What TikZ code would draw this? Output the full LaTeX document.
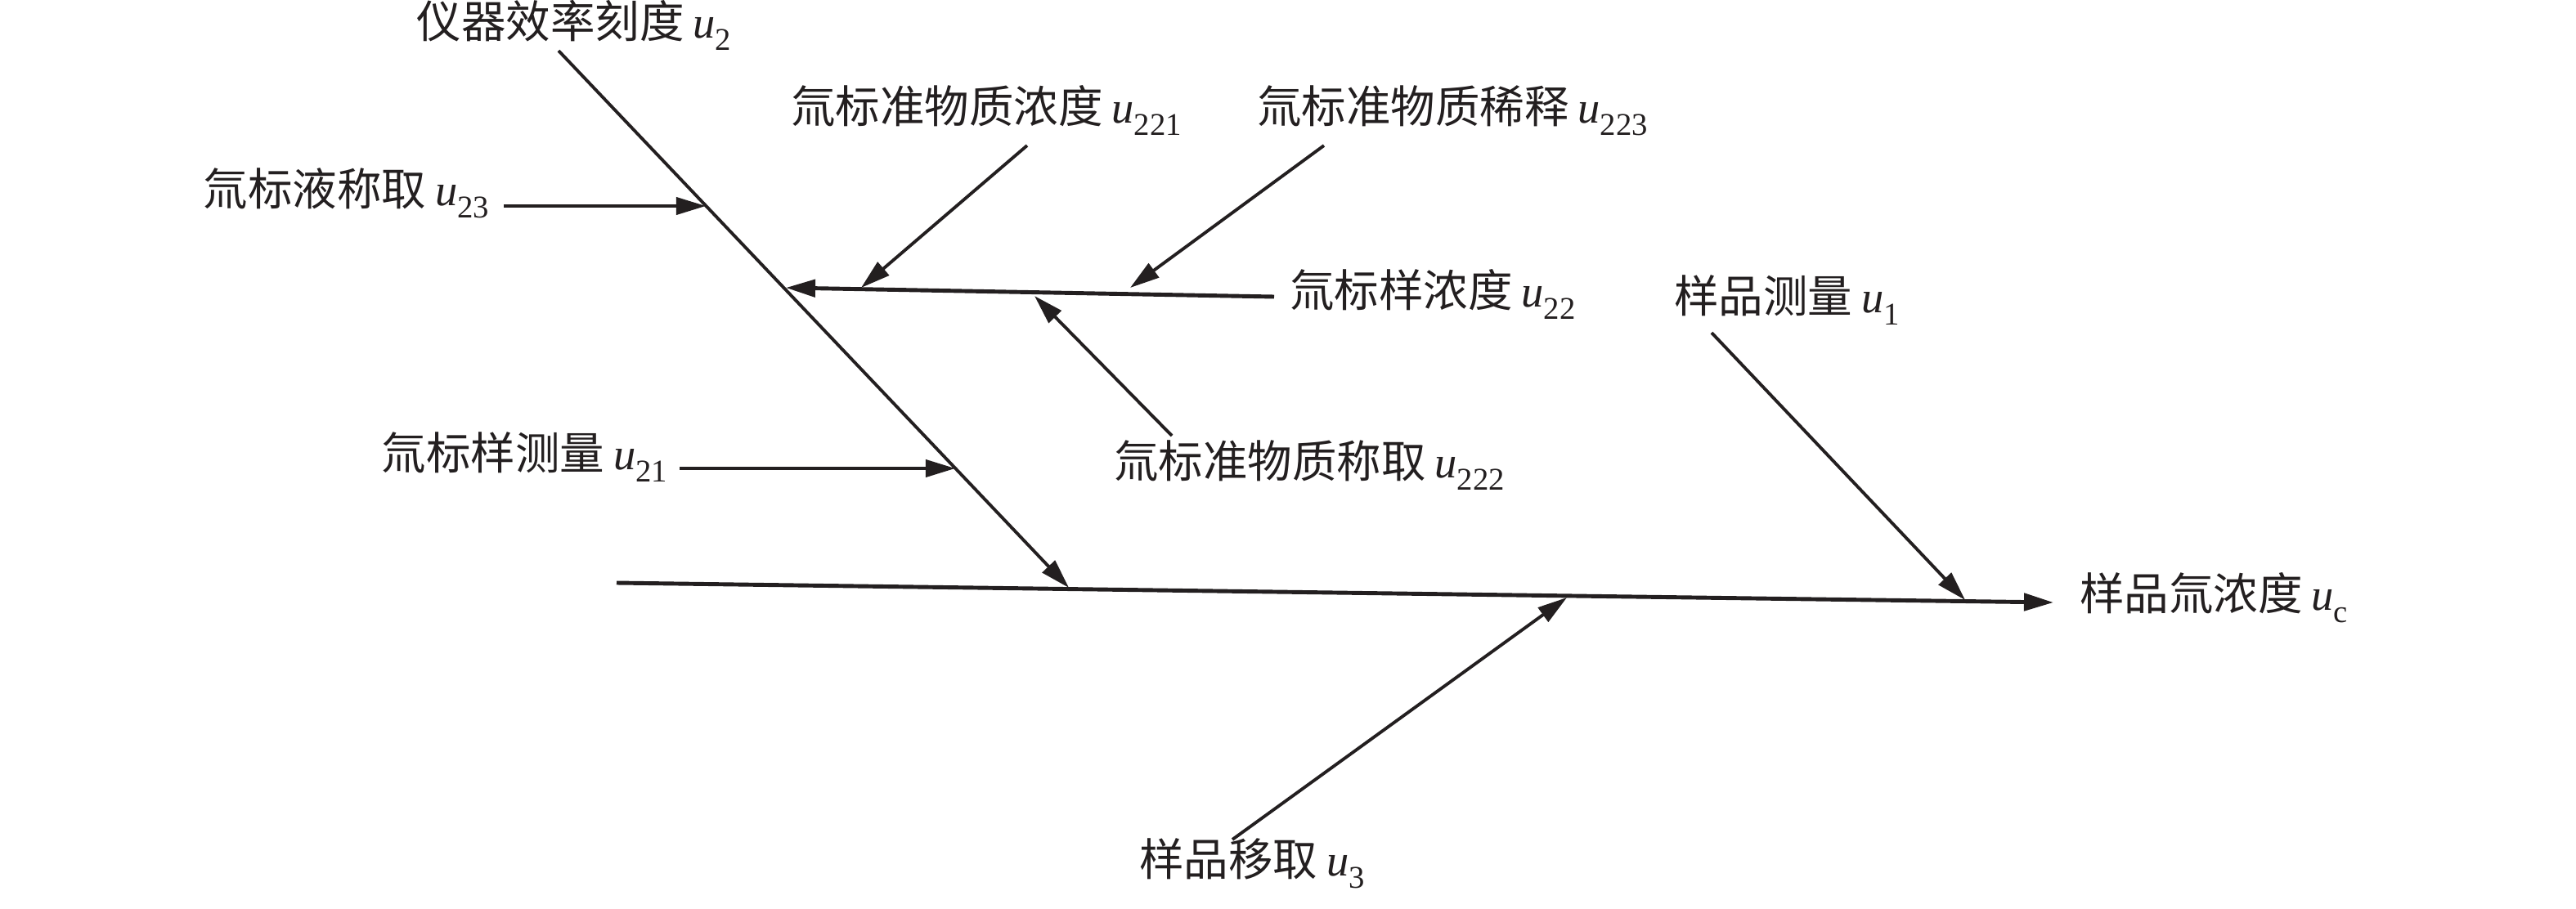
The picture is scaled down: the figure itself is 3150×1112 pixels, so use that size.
\documentclass[tikz,border=0pt]{standalone}
\usepackage{fontspec}
\setmainfont{Liberation Serif}
\newfontfamily\cjk{Noto Sans CJK SC}
\usetikzlibrary{arrows.meta}
\definecolor{ink}{HTML}{231F20}
\newcommand\lbl[2]{{\cjk #1}\hspace{0.2em}\textit{u}\raisebox{-0.28em}{\fontsize{11pt}{11pt}\selectfont #2}}
\tikzset{
  lab/.style={inner sep=0pt, outer sep=0pt, text height=0.88em, text depth=0.12em,
    font=\fontsize{15.5pt}{18pt}\selectfont, text=ink},
  arr/.style={draw=ink, line width=1.1pt, -{Triangle[length=3.6mm,width=2.1mm]}},
  thickarr/.style={arr, line width=1.4pt},
}
\begin{document}
\begin{tikzpicture}[x=0.01cm,y=-0.01cm]
\useasboundingbox (0,0) rectangle (3150,1112);
% labels
\node[lab] (L2)   at (702,33)   {\lbl{仪器效率刻度}{2}};
\node[lab,anchor=east] (L23) at (598,238) {\lbl{氚标液称取}{23}};
\node[lab] (L221) at (1206,137) {\lbl{氚标准物质浓度}{221}};
\node[lab] (L223) at (1776,137) {\lbl{氚标准物质稀释}{223}};
\node[lab,anchor=west] (L22) at (1577,362) {\lbl{氚标样浓度}{22}};
\node[lab,anchor=east] (L21) at (816,561) {\lbl{氚标样测量}{21}};
\node[lab] (L222) at (1601,571) {\lbl{氚标准物质称取}{222}};
\node[lab] (L1)   at (2185,369) {\lbl{样品测量}{1}};
\node[lab,anchor=west] (Lc) at (2543,733) {\lbl{样品氚浓度}{c}};
\node[lab] (L3)   at (1531,1058) {\lbl{样品移取}{3}};
% coordinates
\coordinate (s0) at (754,713);
\coordinate (sh) at (2511,737);
\coordinate (b2a) at (683,62);
\coordinate (b2b) at (1307,719);
\coordinate (a23) at (616,252);
\coordinate (t23) at (863,252);
\coordinate (a21) at (831,573);
\coordinate (t21) at (1168,573);
\coordinate (a22) at (1558,363);
\coordinate (t22) at (961,352);
\coordinate (a221) at (1256,178);
\coordinate (t221) at (1053,352);
\coordinate (a223) at (1619,178);
\coordinate (t223) at (1382,352);
\coordinate (a222) at (1433,533);
\coordinate (t222) at (1265,362);
\coordinate (a1) at (2093,407);
\coordinate (t1) at (2403,734);
\coordinate (a3) at (1507,1027);
\coordinate (t3) at (1916,731);
% connectors
\draw[thickarr] (s0) -- (sh);
\draw[arr] (b2a) -- (b2b);
\draw[arr] (a23) -- (t23);
\draw[arr] (a21) -- (t21);
\draw[thickarr] (a22) -- (t22);
\draw[arr] (a221) -- (t221);
\draw[arr] (a223) -- (t223);
\draw[arr] (a222) -- (t222);
\draw[arr] (a1) -- (t1);
\draw[arr] (a3) -- (t3);
\end{tikzpicture}
\end{document}
